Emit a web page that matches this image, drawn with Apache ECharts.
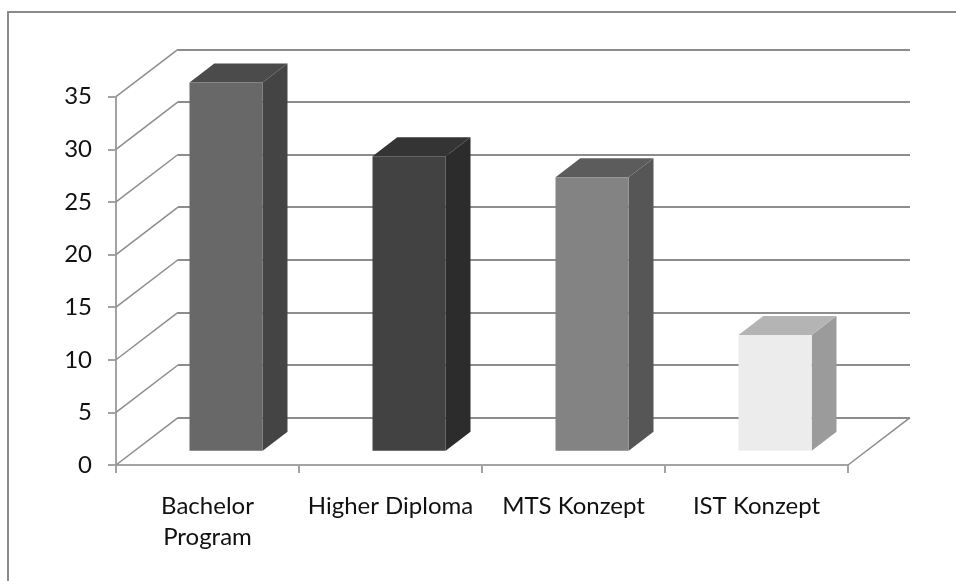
<!DOCTYPE html>
<html>
<head>
<meta charset="utf-8">
<script src="https://cdn.jsdelivr.net/npm/echarts@6/dist/echarts.min.js"></script>
<style>
  html, body { margin: 0; padding: 0; background: #fff; }
  #chart { width: 956px; height: 581px; }
</style>
</head>
<body>
<div id="chart"></div>
<script>
// data
const categories = ['Bachelor\nProgram', 'Higher Diploma', 'MTS Konzept', 'IST Konzept'];
const values = [35, 28, 26, 11];
const yMin = 0, yMax = 35, yStep = 5;
const yTicks = [0, 5, 10, 15, 20, 25, 30, 35];

// grey shades per bar: front, side, top
const barColors = [
  ['#686868', '#444444', '#4b4b4b'],
  ['#424242', '#2c2c2c', '#343434'],
  ['#838383', '#565656', '#5c5c5c'],
  ['#ececec', '#9b9b9b', '#b4b4b4']
];

// depth of the "3d" box in pixels
const DX = 62, DY = -47.4;
const D0 = 0.3, D1 = 0.7; // bar sits between these depths
const BAR_W = 0.4;        // fraction of category band

const font = 'Lato';
const gridCol = '#8d8d8d';
const axisCol = '#a3a3a3';

const myChart = echarts.init(document.getElementById('chart'));

myChart.setOption({
  animation: false,
  backgroundColor: '#fff',
  textStyle: { fontFamily: font },
  graphic: [{
    type: 'rect',
    shape: { x: 8, y: 12, width: 1200, height: 1200 },
    style: { fill: 'none', stroke: '#8a8a8a', lineWidth: 2 },
    z: -10
  }],
  grid: [
    // front plane
    { left: 116, right: 108, top: 96.7, bottom: 116 },
    // back wall
    { left: 116 + DX, right: 108 - DX, top: 96.7 + DY, bottom: 116 - DY }
  ],
  xAxis: [{
    gridIndex: 0,
    type: 'category',
    data: categories,
    axisLine: { show: true, lineStyle: { color: axisCol, width: 2 } },
    axisTick: { show: true, interval: 0, length: 8, lineStyle: { color: axisCol, width: 2 } },
    axisLabel: {
      interval: 0,
      margin: 26,
      color: '#111',
      fontSize: 24,
      lineHeight: 31,
      fontFamily: font
    }
  }, {
    gridIndex: 1,
    type: 'category',
    data: categories,
    show: false
  }],
  yAxis: [{
    gridIndex: 0,
    type: 'value',
    min: yMin,
    max: yMax,
    interval: yStep,
    axisLine: { show: true, lineStyle: { color: axisCol, width: 2 } },
    axisTick: { show: true, length: 8, lineStyle: { color: axisCol, width: 2 } },
    splitLine: { show: false },
    axisLabel: { margin: 24, color: '#111', fontSize: 24, fontFamily: font }
  }, {
    gridIndex: 1,
    type: 'value',
    min: yMin,
    max: yMax,
    interval: yStep,
    axisLine: { show: false },
    axisTick: { show: false },
    axisLabel: { show: false },
    splitLine: { show: true, lineStyle: { color: gridCol, width: 2 } }
  }],
  series: [{
    // side wall + floor diagonals
    type: 'custom',
    xAxisIndex: 0,
    yAxisIndex: 0,
    z: 1,
    silent: true,
    data: yTicks.map(v => [0, v, -1]).concat([[categories.length - 1, 0, 1]]),
    renderItem: function(params, api) {
      const p = api.coord([api.value(0), api.value(1)]);
      const bw = api.size([1, 0])[0];
      const x0 = p[0] + api.value(2) * bw / 2;
      return {
        type: 'line',
        shape: { x1: x0, y1: p[1], x2: x0 + DX, y2: p[1] + DY },
        style: { stroke: gridCol, lineWidth: 1.5 }
      };
    }
  }, {
    // 3d bars
    type: 'custom',
    xAxisIndex: 0,
    yAxisIndex: 0,
    z: 5,
    data: values.map((v, i) => [i, v]),
    renderItem: function(params, api) {
      const i = api.value(0);
      const base = api.coord([i, 0]);
      const top = api.coord([i, api.value(1)]);
      const bw = api.size([1, 0])[0] * BAR_W;
      const x0 = base[0] - bw / 2 + D0 * DX;
      const x1 = x0 + bw;
      const yb = base[1] + D0 * DY;
      const yt = top[1] + D0 * DY;
      const ddx = (D1 - D0) * DX, ddy = (D1 - D0) * DY;
      const c = barColors[i];
      return {
        type: 'group',
        children: [{
          type: 'polygon',
          shape: { points: [[x1, yb], [x1, yt], [x1 + ddx, yt + ddy], [x1 + ddx, yb + ddy]] },
          style: { fill: c[1] }
        }, {
          type: 'polygon',
          shape: { points: [[x0, yt], [x1, yt], [x1 + ddx, yt + ddy], [x0 + ddx, yt + ddy]] },
          style: { fill: c[2] }
        }, {
          type: 'rect',
          shape: { x: x0, y: yt, width: bw, height: yb - yt },
          style: { fill: c[0] }
        }]
      };
    }
  }]
});
</script>
</body>
</html>
